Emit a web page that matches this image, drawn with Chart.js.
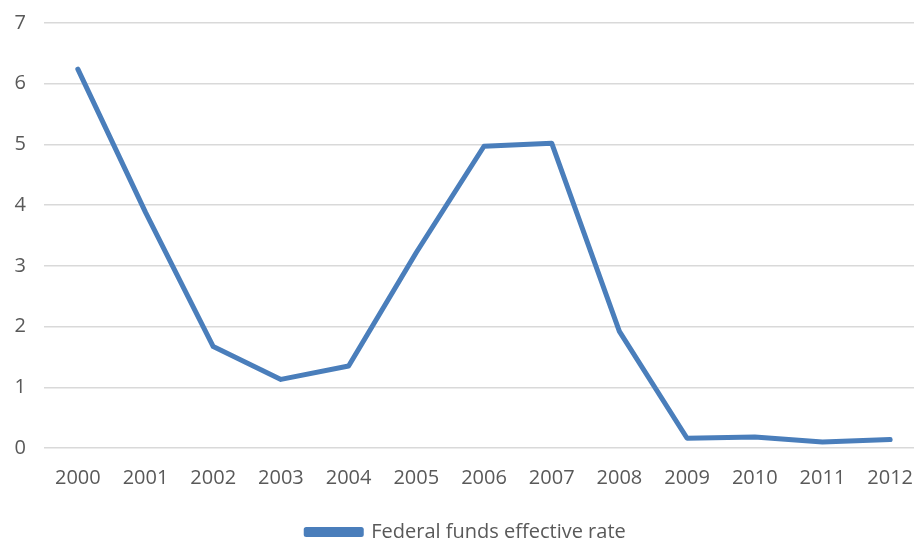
<!DOCTYPE html>
<html>
<head>
<meta charset="utf-8">
<script src="https://cdn.jsdelivr.net/npm/chart.js@4/dist/chart.umd.min.js"></script>
<style>
  html, body { margin: 0; padding: 0; background: #fff; overflow: hidden; }
  #wrap { width: 924px; height: 543px; }
</style>
</head>
<body>
<div id="wrap"><canvas id="Chart1"></canvas></div>
<script>
var years = ["2000", "2001", "2002", "2003", "2004", "2005", "2006", "2007", "2008", "2009", "2010", "2011", "2012"];
var fedRate = [6.24, 3.88, 1.67, 1.13, 1.35, 3.22, 4.97, 5.02, 1.92, 0.16, 0.18, 0.10, 0.14];
var yTicks = [0, 1, 2, 3, 4, 5, 6, 7];

var ctx1 = document.getElementById("Chart1").getContext('2d');

var Chart1 = new Chart(ctx1, {
  type: 'line',
  data: {
    labels: years,
    datasets: [{
      label: "Federal funds effective rate",
      data: fedRate,
      borderColor: "#4a7ebb",
      backgroundColor: "#4a7ebb",
      borderWidth: 5,
      pointRadius: 0,
      tension: 0,
      borderCapStyle: 'round',
      borderJoinStyle: 'round'
    }]
  },
  options: {
    responsive: true,
    maintainAspectRatio: false,
    animation: false,
    layout: { padding: { left: 8, right: 0, top: 23, bottom: -9 } },
    scales: {
      x: {
        offset: true,
        grid: { display: false },
        border: { display: false },
        ticks: { color: "#595959", font: { family: "Open Sans", size: 20 }, padding: 10, maxRotation: 0 }
      },
      y: {
        min: 0,
        max: 7,
        afterBuildTicks: function (axis) {
          axis.ticks = yTicks.map(function (v) { return { value: v }; });
        },
        afterFit: function (axis) { axis.width = 36; axis.paddingTop = 0; },
        grid: { color: "#d9d9d9", lineWidth: 1.5, drawTicks: false },
        border: { display: false },
        ticks: { color: "#595959", font: { family: "Open Sans", size: 20 }, padding: 18 }
      }
    },
    plugins: {
      legend: {
        position: 'bottom',
        labels: {
          color: "#595959",
          font: { family: "Open Sans", size: 20 },
          boxWidth: 55,
          boxHeight: 5,
          padding: 22
        }
      },
      tooltip: { enabled: false }
    }
  }
});
</script>
</body>
</html>
